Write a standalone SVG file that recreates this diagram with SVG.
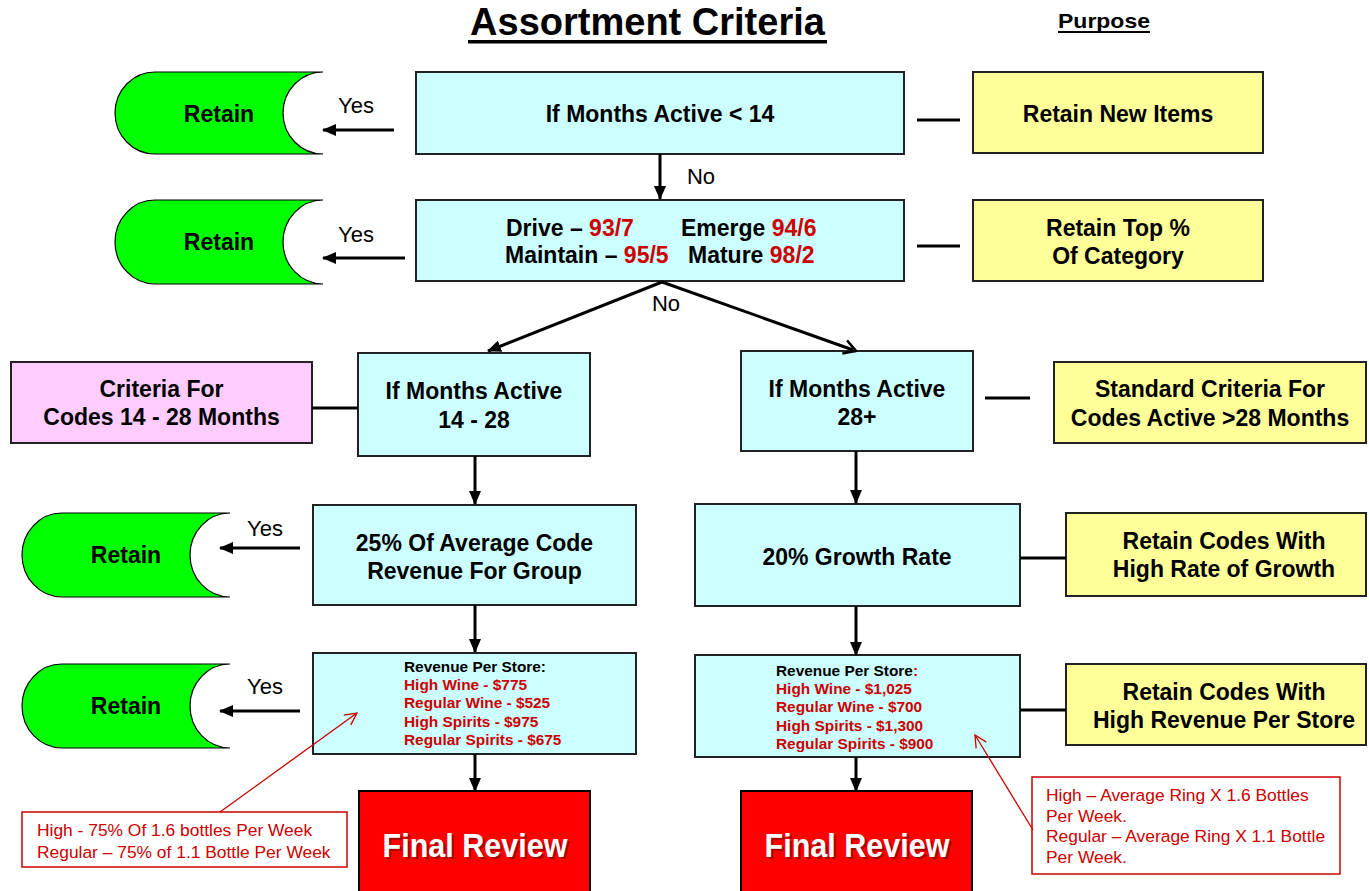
<svg xmlns="http://www.w3.org/2000/svg" width="1369" height="891" viewBox="0 0 1369 891">
<defs>
<style>
text{font-family:"Liberation Sans",Arial,sans-serif;}
.b{font-weight:bold;font-size:23px;fill:#000;text-anchor:middle;}
.lbl{font-size:22px;fill:#000;}
.cy{fill:#CCFFFF;stroke:#222;stroke-width:2;}
.yl{fill:#FFFF99;stroke:#222;stroke-width:2;}
.pk{fill:#FFCCFF;stroke:#222;stroke-width:2;}
.gr{fill:#00FF00;stroke:#000;stroke-width:1.2;}
.fr{fill:#FF0000;stroke:#000;stroke-width:2;}
.rv{font-weight:bold;font-size:15.4px;fill:#CC0000;}
.rv0{font-weight:bold;font-size:15.4px;fill:#000;}
.red{fill:#CC0000;}
.cl{fill:#fff;stroke:#CC0000;stroke-width:1.5;}
.ct{font-size:17.4px;fill:#CC0000;}
.fin{font-weight:bold;font-size:34px;fill:#fff;text-anchor:middle;}
.fsh{font-weight:bold;font-size:34px;fill:#000;opacity:0.35;text-anchor:middle;}
.arr{stroke:#000;stroke-width:3;fill:none;marker-end:url(#ah);}
.arro{stroke:#000;stroke-width:3;fill:none;marker-end:url(#aho);}
.ln{stroke:#000;stroke-width:3;fill:none;}
.rl{stroke:#CC0000;stroke-width:1.3;fill:none;marker-end:url(#rah);}
</style>
<marker id="ah" markerUnits="userSpaceOnUse" markerWidth="14" markerHeight="12" refX="13" refY="6" orient="auto">
<path d="M0,0 L14,6 L0,12 z" fill="#000"/>
</marker>
<marker id="aho" markerUnits="userSpaceOnUse" markerWidth="16" markerHeight="16" refX="14" refY="8" orient="auto">
<path d="M2,1 L14,8 L2,15" fill="none" stroke="#000" stroke-width="2.5"/>
</marker>
<marker id="rah" markerUnits="userSpaceOnUse" markerWidth="14" markerHeight="14" refX="13" refY="7" orient="auto">
<path d="M1,1 L13,7 L1,13" fill="none" stroke="#CC0000" stroke-width="1.3"/>
</marker>
</defs>
<rect width="1369" height="891" fill="#fff"/>

<g id="title">
<text x="647.5" y="35" font-size="38" font-weight="bold" text-anchor="middle">Assortment Criteria</text>
<rect x="468" y="40" width="359" height="3.5" fill="#000"/>
<text x="1104" y="28" font-size="21" font-weight="bold" text-anchor="middle" textLength="92" lengthAdjust="spacingAndGlyphs">Purpose</text>
<rect x="1058" y="31" width="92" height="2" fill="#000"/>
</g>

<g id="retain1">
<path class="gr" d="M155,72 L323,72 A40,41 0 0 0 323,154 L155,154 A40,41 0 0 1 155,72 Z"/>
<text class="b" x="219" y="122">Retain</text>
</g>
<g id="retain2">
<path class="gr" d="M155,200 L323,200 A40,42 0 0 0 323,284 L155,284 A40,42 0 0 1 155,200 Z"/>
<text class="b" x="219" y="250">Retain</text>
</g>
<g id="retain3">
<path class="gr" d="M62,513 L230,513 A40,42 0 0 0 230,597 L62,597 A40,42 0 0 1 62,513 Z"/>
<text class="b" x="126" y="563">Retain</text>
</g>
<g id="retain4">
<path class="gr" d="M62,664 L230,664 A40,42 0 0 0 230,748 L62,748 A40,42 0 0 1 62,664 Z"/>
<text class="b" x="126" y="714">Retain</text>
</g>

<g id="box1">
<rect class="cy" x="416" y="72" width="488" height="82"/>
<text class="b" x="660" y="122">If Months Active &lt; 14</text>
</g>
<g id="box2">
<rect class="cy" x="416" y="200" width="488" height="81"/>
<text x="506" y="236" font-weight="bold" font-size="23">Drive – <tspan class="red">93/7</tspan><tspan x="681">Emerge </tspan><tspan class="red">94/6</tspan></text>
<text x="505" y="263" font-weight="bold" font-size="23">Maintain – <tspan class="red">95/5</tspan><tspan x="688">Mature </tspan><tspan class="red">98/2</tspan></text>
</g>
<g id="purpose1">
<rect class="yl" x="973" y="72" width="290" height="81"/>
<text class="b" x="1118" y="122">Retain New Items</text>
</g>
<g id="purpose2">
<rect class="yl" x="973" y="200" width="290" height="81"/>
<text class="b" x="1118" y="236">Retain Top %</text>
<text class="b" x="1118" y="264">Of Category</text>
</g>
<g id="criteria14">
<rect class="pk" x="11" y="362" width="301" height="81"/>
<text class="b" x="161.5" y="397">Criteria For</text>
<text class="b" x="161.5" y="425">Codes 14 - 28 Months</text>
</g>
<g id="box3">
<rect class="cy" x="358" y="353" width="232" height="103"/>
<text class="b" x="474" y="399">If Months Active</text>
<text class="b" x="474" y="428">14 - 28</text>
</g>
<g id="box4">
<rect class="cy" x="741" y="351" width="232" height="100"/>
<text class="b" x="857" y="397">If Months Active</text>
<text class="b" x="857" y="425">28+</text>
</g>
<g id="purpose3">
<rect class="yl" x="1054" y="362" width="312" height="81"/>
<text class="b" x="1210" y="397">Standard Criteria For</text>
<text class="b" x="1210" y="426">Codes Active &gt;28 Months</text>
</g>
<g id="box5">
<rect class="cy" x="313" y="505" width="323" height="100"/>
<text class="b" x="474.5" y="551">25% Of Average Code</text>
<text class="b" x="474.5" y="579">Revenue For Group</text>
</g>
<g id="box6">
<rect class="cy" x="695" y="504" width="325" height="102"/>
<text class="b" x="857" y="565">20% Growth Rate</text>
</g>
<g id="purpose4">
<rect class="yl" x="1066" y="513" width="300" height="83"/>
<text class="b" x="1224" y="549">Retain Codes With</text>
<text class="b" x="1224" y="577">High Rate of Growth</text>
</g>
<g id="box7">
<rect class="cy" x="313" y="653" width="323" height="101"/>
<text class="rv0" x="404" y="672">Revenue Per Store:</text>
<text class="rv" x="404" y="690">High Wine - $775</text>
<text class="rv" x="404" y="708">Regular Wine - $525</text>
<text class="rv" x="404" y="727">High Spirits - $975</text>
<text class="rv" x="404" y="745">Regular Spirits - $675</text>
</g>
<g id="box8">
<rect class="cy" x="695" y="655" width="325" height="102"/>
<text class="rv0" x="776" y="676">Revenue Per Store<tspan class="red">:</tspan></text>
<text class="rv" x="776" y="694">High Wine - $1,025</text>
<text class="rv" x="776" y="712">Regular Wine - $700</text>
<text class="rv" x="776" y="731">High Spirits - $1,300</text>
<text class="rv" x="776" y="749">Regular Spirits - $900</text>
</g>
<g id="purpose5">
<rect class="yl" x="1066" y="664" width="300" height="81"/>
<text class="b" x="1224" y="700">Retain Codes With</text>
<text class="b" x="1224" y="728">High Revenue Per Store</text>
</g>
<g id="final1">
<rect class="fr" x="359" y="791" width="231" height="102"/>
<text class="fsh" x="477" y="859" textLength="185" lengthAdjust="spacingAndGlyphs">Final Review</text>
<text class="fin" x="475" y="857" textLength="185" lengthAdjust="spacingAndGlyphs">Final Review</text>
</g>
<g id="final2">
<rect class="fr" x="741" y="791" width="231" height="102"/>
<text class="fsh" x="859" y="859" textLength="185" lengthAdjust="spacingAndGlyphs">Final Review</text>
<text class="fin" x="857" y="857" textLength="185" lengthAdjust="spacingAndGlyphs">Final Review</text>
</g>
<g id="note1">
<rect class="cl" x="22" y="812" width="325" height="55"/>
<text class="ct" x="37" y="836">High - 75% Of 1.6 bottles Per Week</text>
<text class="ct" x="37" y="858">Regular – 75% of 1.1 Bottle Per Week</text>
</g>
<g id="note2">
<rect class="cl" x="1032" y="777" width="308" height="97"/>
<text class="ct" x="1046" y="801">High – Average Ring X 1.6 Bottles</text>
<text class="ct" x="1046" y="822">Per Week.</text>
<text class="ct" x="1046" y="842">Regular – Average Ring X 1.1 Bottle</text>
<text class="ct" x="1046" y="863">Per Week.</text>
</g>

<g id="connectors">
<line class="arr" x1="660" y1="154" x2="660" y2="199"/>
<line class="arr" x1="394" y1="130" x2="323" y2="130"/>
<line class="arr" x1="405" y1="258" x2="323" y2="258"/>
<line class="arr" x1="662" y1="282" x2="488" y2="351"/>
<line class="arro" x1="662" y1="282" x2="856" y2="351"/>
<line class="arr" x1="475" y1="456" x2="475" y2="504"/>
<line class="arr" x1="856" y1="451" x2="856" y2="503"/>
<line class="arr" x1="300" y1="548" x2="220" y2="548"/>
<line class="arr" x1="475" y1="605" x2="475" y2="652"/>
<line class="arr" x1="856" y1="606" x2="856" y2="655"/>
<line class="arr" x1="300" y1="711" x2="220" y2="711"/>
<line class="arr" x1="475" y1="754" x2="475" y2="791"/>
<line class="arr" x1="856" y1="757" x2="856" y2="791"/>
<line class="ln" x1="917" y1="120" x2="960" y2="120"/>
<line class="ln" x1="917" y1="246" x2="960" y2="246"/>
<line class="ln" x1="312" y1="408" x2="358" y2="408"/>
<line class="ln" x1="985" y1="398" x2="1030" y2="398"/>
<line class="ln" x1="1020" y1="558" x2="1066" y2="558"/>
<line class="ln" x1="1020" y1="710" x2="1066" y2="710"/>
<line class="rl" x1="220" y1="812" x2="357" y2="713"/>
<line class="rl" x1="1033" y1="830" x2="975" y2="735"/>
<text class="lbl" x="356" y="113" text-anchor="middle">Yes</text>
<text class="lbl" x="356" y="242" text-anchor="middle">Yes</text>
<text class="lbl" x="265" y="536" text-anchor="middle">Yes</text>
<text class="lbl" x="265" y="694" text-anchor="middle">Yes</text>
<text class="lbl" x="701" y="184" text-anchor="middle">No</text>
<text class="lbl" x="666" y="311" text-anchor="middle">No</text>
</g>
</svg>
